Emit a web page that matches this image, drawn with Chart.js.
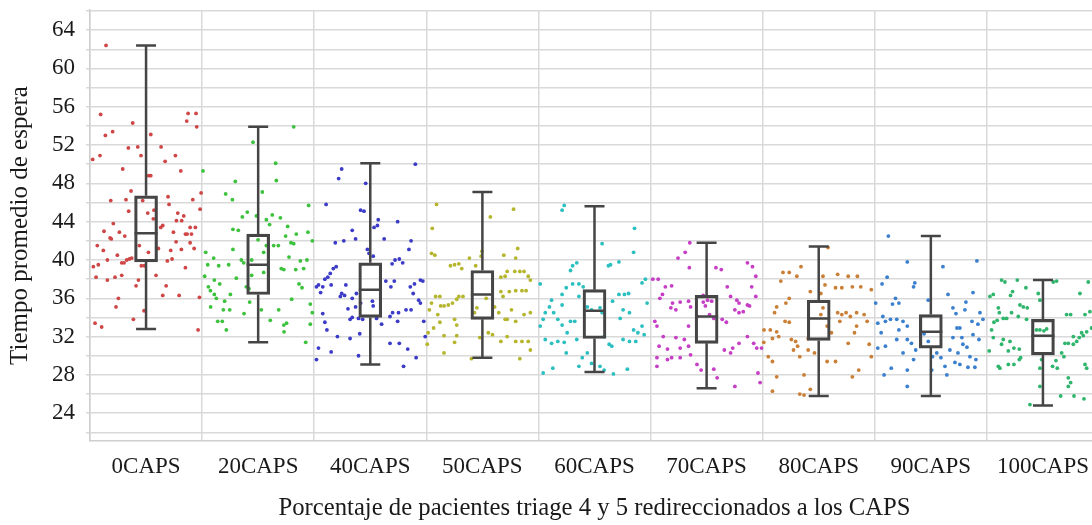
<!DOCTYPE html>
<html>
<head>
<meta charset="utf-8">
<title>Tiempo promedio de espera</title>
<script src="https://cdn.jsdelivr.net/npm/chart.js@4.4.1/dist/chart.umd.min.js"></script>
<style>
    html, body { margin: 0; padding: 0; background: #fff; overflow: hidden; }
    #wrap { width: 1110px; height: 525px; }
</style>
</head>
<body>
<div id="wrap"><canvas id="myChart"></canvas></div>
<script>
// categories (x axis)
const categories = ['0CAPS', '20CAPS', '40CAPS', '50CAPS', '60CAPS', '70CAPS', '80CAPS', '90CAPS', '100CAPS'];

// box plot summary per category
const whiskerHigh = [62.4, 53.9, 50.1, 47.1, 45.6, 41.8, 41.4, 42.5, 37.9];
const q3 = [46.7, 42.7, 39.7, 38.9, 36.9, 36.3, 35.8, 34.3, 33.8];
const median = [42.8, 39.5, 36.9, 36.4, 34.7, 34.1, 33.9, 32.5, 32.1];
const q1 = [39.8, 36.4, 34.0, 33.8, 31.8, 31.3, 31.6, 30.8, 30.1];
const whiskerLow = [32.8, 31.4, 29.1, 29.8, 28.3, 26.6, 25.8, 25.8, 24.8];

// y axis
const yMin = 21.1;
const yMax = 66.1;
const yGridStep = 2;
const yLabelStep = 4;

// replicas: waiting time per run, and horizontal jitter inside the category
const espera0 = [62.4,55.2,53.0,53.4,54.3,53.1,55.3,55.3,54.5,53.9, 50.9,51.7,51.8,50.9,51.8,50.9,50.5,50.3,49.5,48.8,
    48.8,49.3,47.2,46.2,46.3,46.2,46.6,45.8,46.3,47.0, 45.3,45.1,44.9,44.3,45.2,44.9,44.6,44.1,44.1,43.8,
    43.0,42.3,42.2,42.9,42.5,43.6,43.4,42.9,42.7,43.4, 43.4,42.7,42.7,41.5,41.0,40.5,41.5,40.8,41.2,41.0,
    41.9,41.1,41.8,41.2,40.0,39.7,39.7,40.0,40.1,40.2, 39.3,39.5,39.4,39.4,39.9,40.1,39.2,38.2,37.9,38.2,
    38.4,37.9,37.3,38.4,37.3,36.3,36.3,36.1,36.0,35.1, 33.8,34.7,33.4,33.0,32.7];
const jitter0 = [-0.357,-0.405,-0.363,-0.298,-0.119,0.042,0.375,0.446,0.363,0.452, -0.411,-0.158,-0.074,-0.045,0.134,0.262,-0.476,0.170,-0.208,0.042,
    0.024,0.310,-0.134,-0.315,-0.179,-0.030,0.196,0.205,0.417,0.491, 0.482,-0.155,0.015,0.065,0.071,0.283,0.336,0.271,0.318,-0.292,
    -0.375,-0.321,-0.310,-0.238,-0.190,0.149,0.131,0.244,0.351,0.393, 0.440,0.366,0.405,-0.435,-0.381,-0.256,-0.060,0.021,0.110,0.220,
    0.268,0.315,0.393,0.429,-0.345,-0.217,-0.196,-0.173,-0.149,-0.128, -0.470,-0.426,-0.042,-0.015,0.190,0.232,0.351,-0.446,-0.345,-0.277,
    -0.217,-0.068,-0.089,0.089,0.179,0.149,0.295,0.476,-0.247,-0.268, -0.113,-0.018,-0.455,-0.396,0.464];

const espera20 = [49.3,53.9,52.3,50.1,48.2,48.3,46.9,46.3,47.1,45.7, 45.0,44.5,44.6,44.2,44.7,44.4,43.7,43.2,43.1,43.5,
    42.7,42.5,41.8,41.7,42.9,42.0,42.1,40.8,41.5,41.5, 41.1,40.8,40.2,39.5,39.4,39.5,40.0,39.7,38.4,40.3,
    39.9,40.0,39.1,39.0,39.0,39.1,38.3,38.1,37.9,37.5, 37.2,36.8,36.4,36.0,35.1,35.7,36.4,37.0,37.2,37.5,
    37.1,35.9,35.4,35.6,34.8,34.8,34.8,34.4,34.8,33.7, 33.6,33.6,32.7,33.2,33.4,32.5,33.3,34.5,31.4,38.7,
    40.0,41.5];
const jitter20 = [-0.492,0.317,-0.046,0.156,-0.204,0.162,-0.290,-0.230,0.037,0.450, -0.097,-0.141,-0.016,0.073,0.126,0.198,0.102,-0.225,-0.177,0.263,
    0.340,0.245,0.293,0.317,0.444,0.483,-0.001,0.049,0.138,0.180, -0.225,-0.468,-0.397,-0.450,-0.352,-0.263,-0.150,-0.129,-0.058,0.275,
    0.376,0.435,0.206,0.229,0.335,0.406,-0.477,-0.195,-0.391,-0.343, -0.444,-0.426,-0.391,-0.373,-0.424,-0.299,-0.248,-0.082,-0.106,0.364,
    0.391,0.299,0.465,-0.076,0.028,-0.311,-0.254,-0.126,0.183,0.108, -0.361,-0.320,-0.284,0.229,0.253,0.231,0.465,0.483,0.424,0.049,
    -0.058,0.073];

const espera40 = [49.5,48.5,48.0,45.8,45.2,45.1,44.2,43.4,43.6,44.0, 50.0,43.1,41.8,42.0,42.2,42.2,42.0,41.1,41.1,40.7,
    40.4,39.3,39.1,38.6,38.0,38.2,37.4,37.2,37.2,36.6, 37.4,37.4,36.5,36.2,36.3,36.0,36.5,35.1,35.5,35.2,
    35.7,37.8,37.2,37.5,37.9,37.8,40.0,40.1,39.7,39.6, 37.8,37.2,35.8,35.5,36.5,34.8,34.8,34.5,34.5,34.1,
    33.6,34.9,34.4,33.5,32.7,33.9,33.8,34.0,33.8,33.9, 33.3,32.0,31.8,32.3,30.8,30.4,29.6,30.0,31.3,31.3,
    30.7,28.9,29.8,33.6,32.0];
const jitter40 = [-0.255,-0.282,-0.041,-0.394,-0.086,-0.056,0.071,0.034,0.064,0.244, 0.402,-0.161,-0.312,-0.236,-0.131,0.124,0.364,0.345,-0.026,-0.011,
    0.026,-0.304,-0.330,-0.357,-0.405,-0.379,-0.462,-0.424,-0.480,-0.443, -0.349,-0.218,-0.255,-0.267,-0.229,-0.161,-0.124,-0.131,-0.086,0.026,
    0.019,0.214,0.357,0.394,0.447,0.469,0.221,0.259,0.289,0.195, 0.139,0.184,0.432,0.447,0.383,0.319,0.364,0.252,0.199,0.176,
    0.244,-0.199,-0.424,-0.405,-0.387,-0.105,-0.180,-0.161,-0.068,0.056, 0.101,-0.293,-0.180,-0.094,-0.462,-0.349,-0.480,-0.105,0.176,0.259,
    0.334,0.297,0.409,0.477,0.490];

const espera50 = [45.8,43.3,44.5,45.3,40.7,40.5,39.4,39.5,39.6,39.1, 40.2,40.9,40.4,39.4,40.5,40.2,41.2,38.8,38.8,38.8,
    38.8,38.3,37.9,38.3,38.2,36.2,36.2,35.2,35.3,35.5, 35.9,36.2,35.5,34.8,35.2,34.3,33.8,33.2,32.4,32.9,
    33.5,32.1,31.4,32.1,35.0,34.5,36.7,36.2,36.7,36.8, 36.8,36.8,35.1,34.5,33.8,33.8,34.8,33.6,34.3,34.5,
    32.2,32.0,31.5,31.5,31.5,31.5,30.6,31.2,30.3,29.7, 31.9,32.4,29.7,36.0,36.2];
const jitter50 = [-0.409,-0.447,0.071,0.278,-0.454,-0.424,-0.285,-0.248,-0.210,-0.184, -0.116,-0.004,-0.011,-0.060,0.191,0.297,0.315,0.221,0.289,0.334,
    0.372,0.409,0.428,0.203,0.165,-0.417,-0.379,-0.342,-0.304,-0.267, -0.229,-0.210,-0.454,-0.473,-0.372,-0.398,-0.248,-0.229,-0.484,-0.435,
    -0.379,-0.342,-0.248,-0.229,-0.049,-0.071,0.165,0.184,0.240,0.297, 0.353,0.390,0.109,0.146,0.203,0.221,0.259,0.297,0.372,0.428,
    0.090,0.221,0.165,0.297,0.353,0.409,0.428,-0.492,-0.342,-0.098, -0.023,0.053,0.334,0.034,-0.173];

const espera60 = [45.2,45.7,43.3,40.8,41.7,39.4,39.5,39.8,39.4,39.7, 38.9,37.5,35.8,35.1,34.5,34.5,33.8,33.8,33.2,31.5,
    31.4,32.4,37.5,37.5,37.2,37.1,36.4,35.3,36.2,33.6, 33.6,35.1,34.8,35.0,34.5,35.7,36.4,36.4,36.5,37.6,
    38.0,35.5,34.5,34.8,33.9,32.7,32.4,33.1,32.2,31.5, 31.5,31.7,32.0,31.2,31.0,30.3,29.8,28.9,29.2,28.9,
    28.5,28.1,28.6,28.2,28.7,30.3,31.7,31.3,33.1,31.7];
const jitter60 = [-0.289,-0.270,0.357,0.349,0.068,0.124,0.143,0.218,-0.195,-0.158, -0.214,-0.484,-0.383,-0.402,-0.364,-0.439,-0.458,-0.327,-0.289,-0.327,
    -0.270,-0.244,-0.195,-0.139,-0.101,-0.252,-0.289,-0.289,-0.139,-0.176, -0.214,-0.064,-0.026,0.049,0.068,0.161,0.218,0.267,0.304,0.424,
    0.454,0.469,0.312,0.255,0.229,0.349,0.387,0.424,0.443,0.368, 0.312,0.255,0.086,0.131,0.154,-0.064,-0.109,-0.139,-0.026,0.049,
    0.086,0.169,0.293,-0.458,-0.372,-0.252,-0.158,-0.383,-0.484,-0.439];

const espera70 = [41.8,40.8,40.2,39.2,39.2,39.0,39.7,39.3,38.3,37.2, 36.2,35.3,35.2,34.6,34.5,34.8,35.8,35.5,37.2,36.2,
    38.0,38.0,37.2,37.3,36.4,36.0,35.5,35.6,35.0,34.8, 35.7,35.1,35.6,35.8,35.2,35.7,34.3,33.9,33.5,33.8,
    33.6,33.1,32.0,31.0,30.7,31.9,30.8,31.7,31.0,30.1, 29.8,29.8,29.6,29.8,28.9,29.1,28.5,28.6,27.7,26.8,
    30.6,30.3,30.8,31.3,32.0,31.3,30.8,30.8,28.2,27.2, 33.1,34.1,36.3];
const jitter70 = [-0.150,-0.191,-0.255,-0.154,0.083,0.131,0.364,0.409,0.439,0.402, 0.439,0.364,0.383,0.327,0.289,0.252,0.270,0.289,0.184,0.214,
    -0.480,-0.432,-0.368,-0.312,-0.394,-0.417,-0.304,-0.236,-0.319,-0.274, -0.161,-0.143,-0.030,0.008,-0.011,0.045,0.026,0.064,0.176,0.139,
    -0.462,-0.443,-0.387,-0.424,-0.349,-0.274,-0.236,-0.199,-0.161,-0.143, -0.312,-0.443,-0.349,-0.236,-0.443,-0.086,-0.049,0.064,0.094,0.252,
    0.158,0.214,0.233,0.289,0.364,0.420,0.447,0.490,0.458,0.477, -0.161,-0.086,-0.030];

const espera80 = [41.3,39.3,38.7,38.7,38.3,38.3,38.5,38.3,38.3,37.8, 37.4,37.1,37.1,37.2,36.9,37.2,36.5,36.7,36.0,35.5,
    35.1,34.5,33.6,33.5,35.0,34.3,34.5,34.3,34.5,34.1, 34.5,34.3,33.6,33.6,33.1,32.7,32.7,32.5,31.8,32.0,
    31.7,31.5,31.0,30.6,31.8,30.6,30.3,29.9,29.4,29.4, 31.3,32.4,31.2,29.9,31.4,29.9,29.4,27.8,26.3,28.0,
    26.5,26.0,25.9,28.5,27.8,33.1,32.4];
const jitter80 = [0.083,-0.158,-0.263,-0.319,-0.195,0.038,0.169,0.263,0.345,-0.338, 0.056,0.150,0.206,0.300,0.469,0.375,0.019,-0.075,-0.263,-0.293,
    -0.375,-0.394,-0.300,-0.263,0.038,0.019,0.169,0.206,0.244,0.282, 0.338,0.405,0.432,0.188,0.338,-0.488,-0.432,-0.375,-0.413,-0.357,
    -0.244,-0.206,-0.188,-0.225,-0.094,-0.094,-0.038,-0.169,0.075,0.150, 0.263,0.319,0.450,0.469,-0.490,-0.450,-0.413,-0.375,-0.413,-0.131,
    -0.075,-0.169,-0.131,0.357,0.300,0.075,0.113];

const espera90 = [42.5,39.8,38.2,37.5,37.6,37.2,36.0,35.4,35.5,35.5, 34.1,33.4,33.6,33.8,33.8,33.6,33.1,32.7,32.4,30.8,
    31.0,31.7,31.7,31.3,30.6,30.3,29.6,28.5,28.7,28.0, 26.8,29.9,31.5,32.3,28.5,30.3,29.8,35.8,
    39.3,39.9,36.6,36.4,35.6,34.8,35.0,34.4,34.5,33.8, 33.6,33.3,32.9,32.9,31.9,32.2,31.7,31.9,31.2,30.9,
    30.6,30.3,29.9,29.6,29.3,29.1,28.8,28.8,28.9,28.0];
const jitter90 = [-0.379,-0.210,-0.390,-0.435,-0.143,-0.154,-0.315,-0.342,-0.285,-0.492, -0.428,-0.473,-0.405,-0.360,-0.304,-0.248,-0.210,-0.285,-0.443,-0.473,
    -0.405,-0.304,-0.210,-0.173,-0.135,-0.248,-0.154,-0.210,-0.353,-0.417, -0.210,0.015,-0.023,-0.060,0.008,0.053,0.090,-0.023,
    0.108,0.411,0.376,0.153,0.313,0.304,0.197,0.224,0.438,0.465, 0.367,0.420,0.259,0.233,0.277,0.376,0.429,0.197,0.286,0.322,
    0.170,0.242,0.349,0.402,0.215,0.259,0.331,0.393,0.126,0.143];

const espera100 = [37.9,37.7,37.9,37.1,36.7,36.3,36.2,36.4,35.0,34.5, 34.5,35.3,35.1,35.0,34.1,33.8,36.5,35.8,37.8,37.7,
    36.5,37.7,34.3,34.3,34.3,34.6,32.9,32.5,32.4,32.1, 31.9,31.5,31.2,32.0,31.3,31.3,30.3,29.9,29.5,28.7,
    28.9,32.7,32.6,32.7,32.8,29.6,28.7,26.8,27.7,27.2, 26.8,25.8,25.8,25.5,29.1,28.7,32.7,31.9,30.5,31.7,
    31.2,31.5,30.5,30.8,30.7,29.8,28.9,28.7,29.1,29.1, 29.6,33.5,33.7,33.9,33.9,24.9];
const jitter100 = [-0.369,-0.339,-0.229,-0.152,-0.271,-0.289,-0.473,-0.443,-0.398,-0.389, -0.280,-0.205,-0.175,-0.140,-0.220,-0.146,-0.042,-0.027,0.122,0.092,
    0.330,0.404,0.211,0.247,0.375,0.419,0.434,0.390,0.345,0.360, 0.324,0.301,0.271,0.271,0.226,0.196,0.167,0.187,0.116,0.128,
    0.086,-0.027,0.009,-0.057,0.033,-0.012,-0.027,-0.027,0.226,0.247, 0.226,0.158,0.277,0.366,0.375,0.390,-0.458,-0.443,-0.479,-0.354,
    -0.369,-0.294,-0.309,-0.259,-0.211,-0.199,-0.398,-0.384,-0.309,-0.259, -0.211,-0.437,-0.408,-0.354,-0.324,-0.116];

const esperas = [espera0, espera20, espera40, espera50, espera60, espera70, espera80, espera90, espera100];
const jitters = [jitter0, jitter20, jitter40, jitter50, jitter60, jitter70, jitter80, jitter90, jitter100];

const pointColors = ['#cf4646', '#3cc23c', '#3b3bc8', '#b5b52e', '#2cbfbf', '#c63ec6', '#c97f35', '#3b80cf', '#2fb56c'];

Chart.defaults.font.family = '"Liberation Serif", "Times New Roman", serif';
Chart.defaults.color = '#1a1a1a';

// one scatter dataset per category
const pointSets = categories.map(function (cat, i) {
    return {
        type: 'scatter',
        label: cat,
        data: esperas[i].map(function (v, k) {
            return { x: i + jitters[i][k], y: v };
        }),
        backgroundColor: pointColors[i],
        borderWidth: 0,
        pointRadius: 1.9,
        order: 1
    };
});

// box (q1..q3) as floating bars
const boxSet = {
    type: 'bar',
    label: 'caja',
    data: categories.map(function (cat, i) {
        return { x: i, y: [q1[i], q3[i]] };
    }),
    backgroundColor: 'rgba(0,0,0,0)',
    borderColor: '#454545',
    borderWidth: 2.5,
    borderSkipped: false,
    barThickness: 23,
    order: 0
};

// whiskers, caps and median line
const boxWhiskers = {
    id: 'boxWhiskers',
    afterDatasetsDraw(chart) {
        const ctx = chart.ctx;
        const x = chart.scales.x;
        const y = chart.scales.y;
        ctx.save();
        ctx.strokeStyle = '#454545';
        ctx.lineWidth = 2.5;
        categories.forEach(function (cat, i) {
            const px = x.getPixelForValue(i);
            const cap = 10;
            const half = 11.5;
            ctx.beginPath();
            ctx.moveTo(px, y.getPixelForValue(q3[i]));
            ctx.lineTo(px, y.getPixelForValue(whiskerHigh[i]));
            ctx.moveTo(px, y.getPixelForValue(q1[i]));
            ctx.lineTo(px, y.getPixelForValue(whiskerLow[i]));
            ctx.moveTo(px - cap, y.getPixelForValue(whiskerHigh[i]));
            ctx.lineTo(px + cap, y.getPixelForValue(whiskerHigh[i]));
            ctx.moveTo(px - cap, y.getPixelForValue(whiskerLow[i]));
            ctx.lineTo(px + cap, y.getPixelForValue(whiskerLow[i]));
            ctx.moveTo(px - half, y.getPixelForValue(median[i]));
            ctx.lineTo(px + half, y.getPixelForValue(median[i]));
            ctx.stroke();
        });
        ctx.restore();
    }
};

const config = {
    type: 'scatter',
    data: {
        datasets: pointSets.concat([boxSet])
    },
    options: {
        responsive: true,
        maintainAspectRatio: false,
        animation: false,
        layout: {
            padding: { top: 10, right: 11, bottom: 0, left: 0 }
        },
        plugins: {
            legend: { display: false },
            tooltip: { enabled: false }
        },
        scales: {
            x: {
                type: 'linear',
                offset: false,
                min: -0.5,
                max: categories.length - 0.5,
                afterBuildTicks: function (scale) {
                    scale.ticks = categories.map(function (c, i) { return { value: i }; });
                },
                afterFit: function (scale) {
                    scale.height = 84;
                    scale.paddingLeft = 0;
                    scale.paddingRight = 0;
                },
                grid: {
                    offset: true,
                    color: '#d9d9d9',
                    lineWidth: 1.5,
                    drawTicks: false
                },
                border: { color: '#cfcfcf', width: 1.5 },
                ticks: {
                    autoSkip: false,
                    maxRotation: 0,
                    padding: 12,
                    font: { size: 23 },
                    callback: function (value) { return categories[value]; }
                },
                title: {
                    display: true,
                    text: 'Porcentaje de pacientes triage 4 y 5 redireccionados a los CAPS',
                    font: { size: 24.7 },
                    padding: { top: 0, bottom: 2 }
                }
            },
            y: {
                min: yMin,
                max: yMax,
                afterBuildTicks: function (scale) {
                    const t = [];
                    for (let v = Math.ceil(yMin / yGridStep) * yGridStep; v <= yMax; v += yGridStep) {
                        t.push({ value: v });
                    }
                    scale.ticks = t;
                },
                afterFit: function (scale) {
                    scale.width = 90;
                    scale.paddingTop = 0;
                    scale.paddingBottom = 0;
                },
                grid: {
                    color: '#d9d9d9',
                    lineWidth: 1.5,
                    tickLength: 4
                },
                border: { color: '#cfcfcf', width: 1.5 },
                ticks: {
                    autoSkip: false,
                    padding: 11,
                    font: { size: 23 },
                    callback: function (value) {
                        return value % yLabelStep === 0 ? value : '';
                    }
                },
                title: {
                    display: true,
                    text: 'Tiempo promedio de espera',
                    font: { size: 25 },
                    padding: { top: 5, bottom: 0 }
                }
            }
        }
    },
    plugins: [boxWhiskers]
};

const myChart = new Chart(
    document.getElementById('myChart').getContext('2d'),
    config
);
</script>
</body>
</html>
